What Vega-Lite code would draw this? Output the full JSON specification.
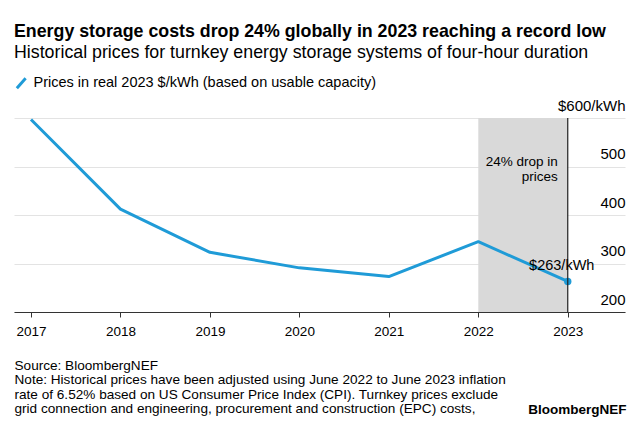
{
  "$schema": "https://vega.github.io/schema/vega-lite/v6.json",
  "width": 611,
  "height": 194,
  "autosize": {"type": "none"},
  "padding": {"left": 14, "top": 118, "right": 15, "bottom": 117},
  "background": "white",
  "title": {
    "text": "Energy storage costs drop 24% globally in 2023 reaching a record low",
    "subtitle": "Historical prices for turnkey energy storage systems of four-hour duration",
    "anchor": "start",
    "frame": "group",
    "offset": 14,
    "font": "Liberation Sans",
    "fontSize": 17.8,
    "fontWeight": "bold",
    "color": "#000000",
    "subtitleFont": "Liberation Sans",
    "subtitleFontSize": 17.8,
    "subtitleColor": "#000000",
    "subtitlePadding": 3
  },
  "config": {
    "view": {"stroke": null},
    "font": "Liberation Sans"
  },
  "datasets": {
    "prices": [
      {"year": 2017, "price": 597},
      {"year": 2018, "price": 412},
      {"year": 2019, "price": 323},
      {"year": 2020, "price": 291},
      {"year": 2021, "price": 273},
      {"year": 2022, "price": 345},
      {"year": 2023, "price": 263}
    ]
  },
  "layer": [
    {
      "data": {"values": [{"start": 2022, "end": 2023}]},
      "mark": {"type": "rect", "color": "#d9d9d9"},
      "encoding": {
        "x": {"field": "start", "type": "quantitative", "scale": {"domain": [2016.81, 2023.64], "nice": false, "zero": false}},
        "x2": {"field": "end"}
      }
    },
    {
      "data": {"name": "prices"},
      "mark": {"type": "line", "strokeWidth": 3, "strokeJoin": "round"},
      "encoding": {
        "x": {
          "field": "year",
          "type": "quantitative",
          "scale": {"domain": [2016.81, 2023.64], "nice": false, "zero": false},
          "axis": {
            "values": [2017, 2018, 2019, 2020, 2021, 2022, 2023],
            "format": "d",
            "grid": false,
            "domainColor": "#333333",
            "domainWidth": 1,
            "tickColor": "#333333",
            "tickSize": 5,
            "labelFontSize": 13.5,
            "labelColor": "#000000",
            "labelPadding": 7,
            "title": [
              "Source: BloombergNEF",
              "Note: Historical prices have been adjusted using June 2022 to June 2023 inflation",
              "rate of 6.52% based on US Consumer Price Index (CPI). Turnkey prices exclude",
              "grid connection and engineering, procurement and construction (EPC) costs,"
            ],
            "titleAnchor": "start",
            "titleAlign": "left",
            "titleBaseline": "alphabetic",
            "titleX": 0,
            "titleY": 57,
            "titleFontSize": 13.6,
            "titleFontWeight": "normal",
            "titleColor": "#000000",
            "titleLineHeight": 14.6
          }
        },
        "y": {
          "field": "price",
          "type": "quantitative",
          "scale": {"domain": [200, 600], "nice": false, "zero": false},
          "axis": {
            "orient": "right",
            "values": [200, 300, 400, 500, 600],
            "labelExpr": "datum.value == 600 ? '$600/kWh' : datum.label",
            "grid": true,
            "gridColor": "#e3e3e3",
            "gridWidth": 1,
            "domain": false,
            "ticks": false,
            "tickSize": 0,
            "labelAlign": "right",
            "labelBaseline": "middle",
            "labelPadding": 0,
            "labelOffset": -13,
            "labelFontSize": 15,
            "labelColor": "#000000",
            "title": "BloombergNEF",
            "titleAngle": 0,
            "titleAlign": "right",
            "titleBaseline": "alphabetic",
            "titleX": 1,
            "titleY": 295,
            "titleFontSize": 13.5,
            "titleFontWeight": "bold",
            "titleColor": "#000000"
          }
        },
        "color": {
          "datum": "Prices in real 2023 $/kWh (based on usable capacity)",
          "type": "nominal",
          "scale": {"range": ["#1f9bd7"]},
          "legend": {
            "title": null,
            "orient": "none",
            "legendX": 0,
            "legendY": -42,
            "symbolType": "M-0.8,0.9L0.8,-0.9",
            "symbolSize": 120,
            "symbolStrokeWidth": 3,
            "labelFontSize": 14.5,
            "labelColor": "#000000",
            "labelOffset": 5,
            "labelLimit": 600
          }
        }
      }
    },
    {
      "data": {"name": "prices"},
      "transform": [{"filter": "datum.year == 2023"}],
      "mark": {"type": "point", "filled": true, "size": 55, "color": "#1f9bd7", "opacity": 1},
      "encoding": {
        "x": {"field": "year", "type": "quantitative"},
        "y": {"field": "price", "type": "quantitative"}
      }
    },
    {
      "data": {"values": [{"year": 2023}]},
      "mark": {"type": "rule", "color": "#222222", "strokeWidth": 1.2},
      "encoding": {
        "x": {"field": "year", "type": "quantitative"}
      }
    },
    {
      "data": {"values": [{"year": 2023, "price": 263, "label": "$263/kWh"}]},
      "mark": {"type": "text", "align": "center", "baseline": "alphabetic", "dx": -6, "dy": -11, "fontSize": 14.5, "color": "#000000"},
      "encoding": {
        "x": {"field": "year", "type": "quantitative"},
        "y": {"field": "price", "type": "quantitative"},
        "text": {"field": "label"}
      }
    },
    {
      "data": {"values": [{"year": 2023, "price": 502, "label": ["24% drop in", "prices"]}]},
      "mark": {"type": "text", "align": "right", "baseline": "alphabetic", "dx": -10, "fontSize": 13.5, "lineHeight": 15, "color": "#000000"},
      "encoding": {
        "x": {"field": "year", "type": "quantitative"},
        "y": {"field": "price", "type": "quantitative"},
        "text": {"field": "label"}
      }
    }
  ]
}
